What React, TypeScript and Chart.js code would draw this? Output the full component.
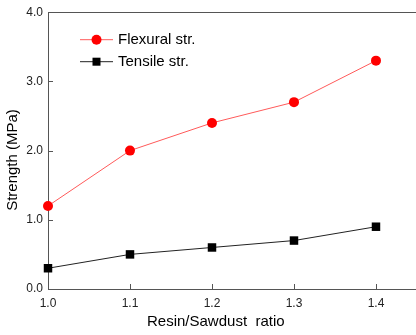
import React, { useEffect, useRef } from "react";
import { Chart, registerables } from "chart.js";

Chart.register(...registerables);

const ratios = [1.0, 1.1, 1.2, 1.3, 1.4];
const flexural = [1.2, 2.0, 2.4, 2.7, 3.3];
const tensile = [0.3, 0.5, 0.6, 0.7, 0.9];
const seriesNames = ["Flexural str.", "Tensile str."];
const xTitle = "Resin/Sawdust  ratio";
const yTitle = "Strength (MPa)";

const FONT = "'Liberation Sans', Arial, sans-serif";

const framePlugin = {
  id: "frame",
  afterDraw(chart: any) {
    const { ctx, chartArea } = chart;
    const xs = chart.scales.x;
    const ys = chart.scales.y;
    ctx.save();
    ctx.strokeStyle = "#555";
    ctx.lineWidth = 1;
    // top frame line
    ctx.beginPath();
    ctx.moveTo(chartArea.left, Math.round(chartArea.top) + 0.5);
    ctx.lineTo(chart.width, Math.round(chartArea.top) + 0.5);
    ctx.stroke();
    // inward ticks
    ctx.beginPath();
    xs.ticks.forEach((t: any, i: number) => {
      const px = Math.round(xs.getPixelForTick(i)) + 0.5;
      ctx.moveTo(px, chartArea.bottom);
      ctx.lineTo(px, chartArea.bottom - 5);
    });
    ys.ticks.forEach((t: any, i: number) => {
      const py = Math.round(ys.getPixelForTick(i)) + 0.5;
      ctx.moveTo(chartArea.left, py);
      ctx.lineTo(chartArea.left + 5, py);
    });
    ctx.stroke();
    // axis titles
    ctx.fillStyle = "#000";
    ctx.font = `15px ${FONT}`;
    ctx.textBaseline = "middle";
    ctx.textAlign = "left";
    ctx.fillText(xTitle, 147, 322);
    ctx.save();
    ctx.translate(13, 160);
    ctx.rotate(-Math.PI / 2);
    ctx.textAlign = "center";
    ctx.fillText(yTitle, 0, 0);
    ctx.restore();
    // legend
    const items = chart.data.datasets;
    const lx = chartArea.left + 32;
    const ly = chartArea.top + 27;
    items.forEach((ds: any, i: number) => {
      const y = ly + i * 22;
      ctx.strokeStyle = ds.borderColor;
      ctx.lineWidth = 1;
      ctx.beginPath();
      ctx.moveTo(lx, y + 0.5);
      ctx.lineTo(lx + 33, y + 0.5);
      ctx.stroke();
      ctx.fillStyle = ds.pointBackgroundColor;
      if (ds.pointStyle === "circle") {
        ctx.beginPath();
        ctx.arc(lx + 16.5, y + 0.5, 5, 0, Math.PI * 2);
        ctx.fill();
      } else {
        ctx.fillRect(lx + 12.5, y - 3.5, 8, 8);
      }
      ctx.fillStyle = "#000";
      ctx.font = `15px ${FONT}`;
      ctx.textBaseline = "middle";
      ctx.textAlign = "left";
      ctx.fillText(ds.label, lx + 38, y + 1);
    });
    ctx.restore();
  },
};

export default function App() {
  const ref = useRef<HTMLCanvasElement>(null);
  useEffect(() => {
    const canvas = ref.current!;
    const chart = new Chart(canvas, {
      type: "line",
      data: {
        datasets: [
          {
            label: seriesNames[0],
            data: ratios.map((x, i) => ({ x, y: flexural[i] })),
            borderColor: "#ff5a5a",
            borderWidth: 1,
            pointStyle: "circle",
            pointRadius: 5,
            pointBackgroundColor: "#ff0000",
            pointBorderWidth: 0,
            pointBorderColor: "#ff0000",
          },
          {
            label: seriesNames[1],
            data: ratios.map((x, i) => ({ x, y: tensile[i] })),
            borderColor: "#222",
            borderWidth: 1,
            pointStyle: "rect",
            pointRadius: 6,
            pointBackgroundColor: "#000",
            pointBorderWidth: 0,
            pointBorderColor: "#000",
          },
        ],
      },
      options: {
        responsive: false,
        animation: false,
        clip: false,
        layout: { autoPadding: false, padding: { top: 11, right: 0, left: 0, bottom: 0 } },
        plugins: { legend: { display: false }, tooltip: { enabled: false } },
        scales: {
          x: {
            type: "linear",
            min: 1.0,
            max: 1.4488,
            afterFit: (s: any) => { s.height = 46; },
            grid: { display: true, drawOnChartArea: false, drawTicks: false },
            border: { display: true, color: "#555", width: 1 },
            ticks: {
              stepSize: 0.1,
              includeBounds: false,
              padding: 7,
              color: "#222",
              font: { family: FONT, size: 12 },
              callback: (v: any) => Number(v).toFixed(1),
            },
            title: { display: false },
          },
          y: {
            min: 0,
            max: 4,
            afterFit: (s: any) => { s.width = 48; },
            grid: { display: true, drawOnChartArea: false, drawTicks: false },
            border: { display: true, color: "#555", width: 1 },
            ticks: {
              stepSize: 1,
              padding: 5,
              color: "#222",
              font: { family: FONT, size: 12 },
              callback: (v: any) => Number(v).toFixed(1),
            },
            title: { display: false },
          },
        },
      } as any,
      plugins: [framePlugin],
    });
    return () => chart.destroy();
  }, []);
  return (
    <div style={{ position: "fixed", left: 0, top: 0, width: 416, height: 335, background: "#fff" }}>
      <canvas ref={ref} width={416} height={335} />
    </div>
  );
}
